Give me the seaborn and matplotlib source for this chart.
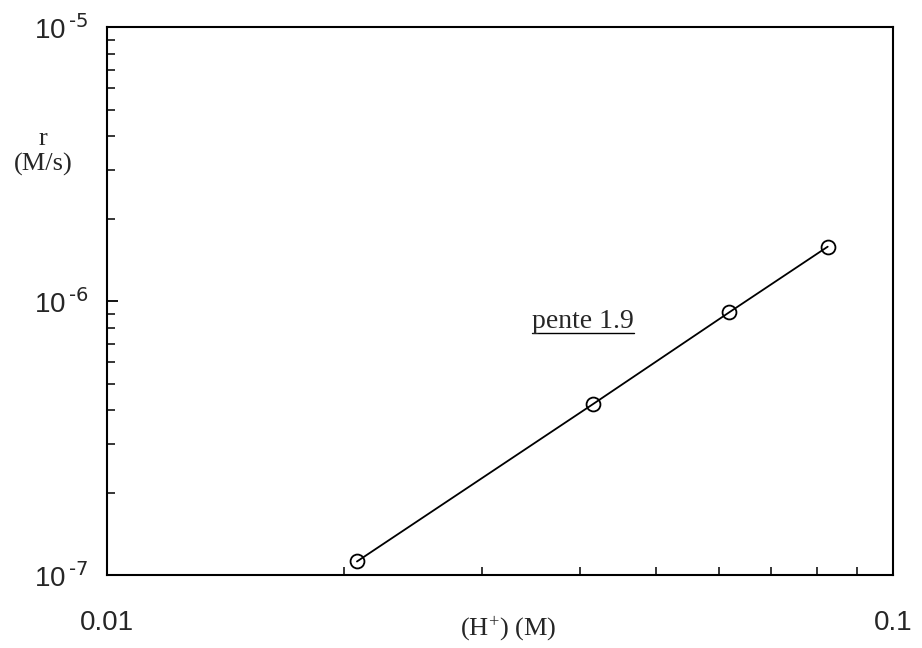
import matplotlib
matplotlib.use('Agg')
from matplotlib import pyplot as plt
from matplotlib.ticker import LogLocator, FixedLocator, FixedFormatter, NullFormatter
import seaborn as sns
import pandas as pd

# donnees
h_plus = [0.0208, 0.0415, 0.0619, 0.0826]
vitesse = [1.12e-7, 4.2e-7, 9.1e-7, 1.58e-6]
x_ticks = [0.01, 0.1]
x_labels = ['0.01', '0.1']
y_ticks = [1e-7, 1e-6, 1e-5]
y_labels = ['10$^{\\,\\text{-7}}$', '10$^{\\,\\text{-6}}$', '10$^{\\,\\text{-5}}$']

df = pd.DataFrame({'H': h_plus, 'r': vitesse})

sns.set_style('ticks')
plt.rcParams['font.family'] = ['Liberation Sans', 'DejaVu Sans']
plt.rcParams['mathtext.default'] = 'regular'

fig = plt.figure(figsize=(9.22, 6.48), dpi=100)
ax = fig.add_axes([0.116, 0.1127, 0.8525, 0.8453])

sns.lineplot(x='H', y='r', data=df, color='black', linewidth=1.3,
             marker='o', markersize=10, markerfacecolor='none',
             markeredgecolor='black', markeredgewidth=1.3, ax=ax)

ax.set_xscale('log')
ax.set_yscale('log')
ax.set_xlim(0.01, 0.1)
ax.set_ylim(1e-7, 1e-5)

ax.xaxis.set_major_locator(FixedLocator(x_ticks))
ax.xaxis.set_major_formatter(FixedFormatter(x_labels))
ax.xaxis.set_minor_locator(LogLocator(base=10, subs=range(2, 10)))
ax.xaxis.set_minor_formatter(NullFormatter())
ax.yaxis.set_major_locator(FixedLocator(y_ticks))
ax.yaxis.set_major_formatter(FixedFormatter(y_labels))
ax.yaxis.set_minor_locator(LogLocator(base=10, subs=range(2, 10)))
ax.yaxis.set_minor_formatter(NullFormatter())

ax.tick_params(axis='both', which='both', direction='in', color='black')
ax.tick_params(axis='both', which='major', length=8, width=1.3, labelsize=20)
ax.tick_params(axis='both', which='minor', length=5.5, width=1.1)
ax.tick_params(axis='x', which='major', pad=25)
ax.tick_params(axis='y', which='major', pad=13.5)

for s in ax.spines.values():
    s.set_visible(True)
    s.set_linewidth(1.5)
    s.set_color('black')

ax.set_xlabel('(H$^{+}$) (M)', fontsize=19, family='Liberation Serif')
ax.xaxis.set_label_coords(0.511, -0.097)
ax.xaxis.label.set_va('center')
ax.set_ylabel('r\n(M/s)', fontsize=19, family='Liberation Serif',
              rotation=0, ha='center', va='center', linespacing=1.15)
ax.yaxis.set_label_coords(-0.081, 0.772)

t = ax.text(0.0347, 7.97e-7, 'pente 1.9', fontsize=20, family='Liberation Serif',
            ha='left', va='baseline')
fig.canvas.draw()
bb = t.get_window_extent().transformed(ax.transAxes.inverted())
uy = 1 - (333 - 27) / 548
ax.plot([bb.x0, bb.x1], [uy, uy], transform=ax.transAxes,
        color='black', linewidth=1.0)

fig.savefig('out.png', dpi=100)
